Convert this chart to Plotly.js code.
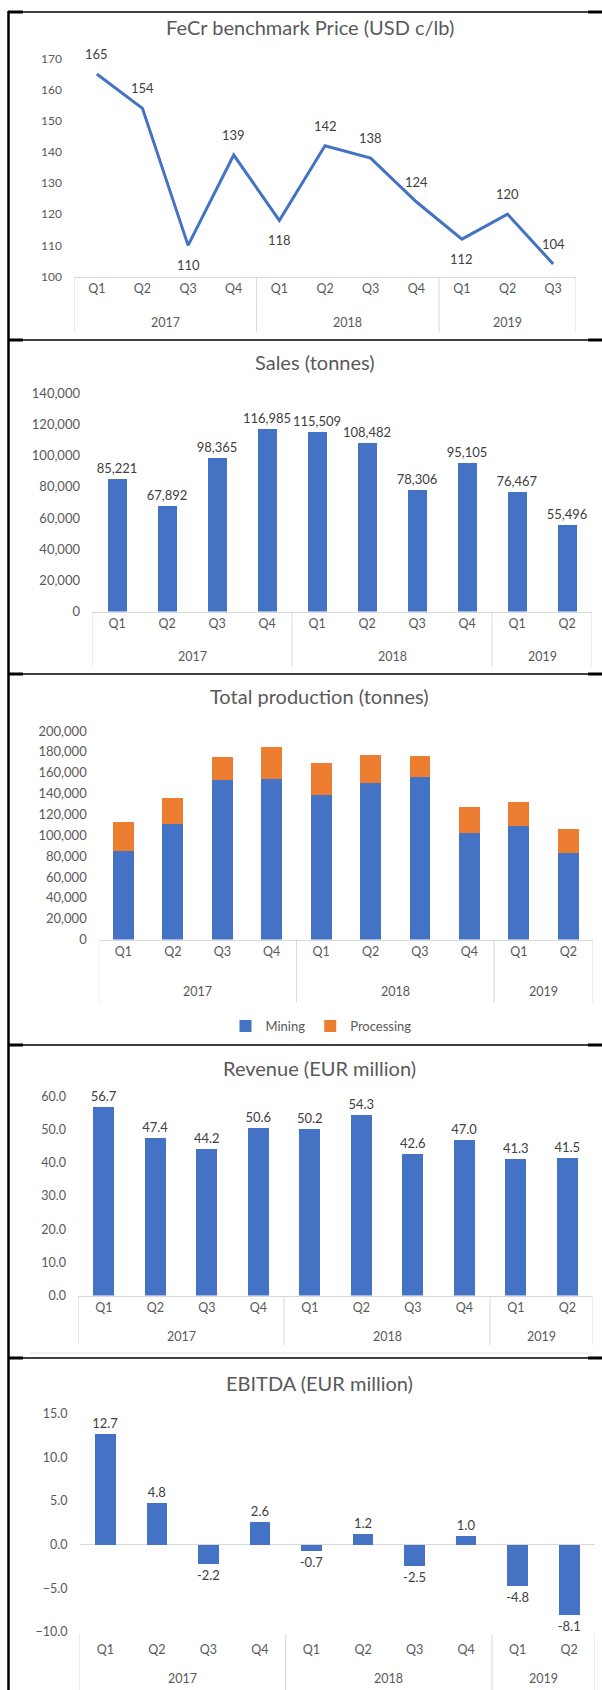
<!DOCTYPE html>
<html>
<head>
<meta charset="utf-8">
<script src="https://cdn.plot.ly/plotly-3.0.1.min.js"></script>
<style>
  html, body { margin: 0; padding: 0; background: #ffffff; }
  #chart { width: 602px; height: 1690px; }
</style>
</head>
<body>
<div id="chart"></div>
<script>
// ---------------- DATA ----------------
const priceYears    = ['2017','2017','2017','2017','2018','2018','2018','2018','2019','2019','2019'];
const priceQuarters = ['Q1','Q2','Q3','Q4','Q1','Q2','Q3','Q4','Q1','Q2','Q3'];
const price         = [165, 154, 110, 139, 118, 142, 138, 124, 112, 120, 104];

const finYears    = ['2017','2017','2017','2017','2018','2018','2018','2018','2019','2019'];
const finQuarters = ['Q1','Q2','Q3','Q4','Q1','Q2','Q3','Q4','Q1','Q2'];

const sales      = [85221, 67892, 98365, 116985, 115509, 108482, 78306, 95105, 76467, 55496];
const mining     = [84500, 110400, 153000, 154000, 138600, 150000, 155500, 102400, 109100, 82900];
const processing = [28100, 25600, 21700, 31000, 31000, 27300, 20500, 24600, 23100, 23300];
const revenue    = [56.7, 47.4, 44.2, 50.6, 50.2, 54.3, 42.6, 47.0, 41.3, 41.5];
const ebitda     = [12.7, 4.8, -2.2, 2.6, -0.7, 1.2, -2.5, 1.0, -4.8, -8.1];

const titles = ['FeCr benchmark Price (USD c/lb)', 'Sales (tonnes)', 'Total production (tonnes)',
                'Revenue (EUR million)', 'EBITDA (EUR million)'];
const legendNames = ['Mining', 'Processing'];

// ---------------- STYLE / LAYOUT HELPERS ----------------
const W = 602, H = 1690;
const FONT = 'Lato, "Open Sans", sans-serif';
const BLUE = '#4472C4', ORANGE = '#ED7D31';
const AXIS_GRAY = '#d9d9d9', TICK_COL = '#595959', LABEL_COL = '#404040';
const TITLE_SIZE = 20;
const xp = px => px / W;
const yp = py => 1 - py / H;
const idx = arr => arr.map((_, i) => i);

// label side for price line labels (1 = above, -1 = below)
const priceLabelSide = [1, 1, -1, 1, -1, 1, 1, 1, -1, 1, 1];

const annotations = [];
const shapes = [];

// panel geometry (pixels)
const panels = [
  { id: '',  x0: 74,   x1: 576, top: 58.5, bottom: 276.5, range: [100, 170], dtick: 10, fmt: 'd',
    tickSize: 12, qStand: 8.5, yearY: 322, divBottom: 332, divTop: 276.5, showline: true,
    years: priceYears, quarters: priceQuarters },
  { id: '2', x0: 92,   x1: 592, top: 393.5, bottom: 611.5, range: [0, 140000], dtick: 20000, fmt: ',d',
    tickSize: 13, qStand: 7.5, yearY: 656.7, divBottom: 667, divTop: 611.5, showline: true,
    years: finYears, quarters: finQuarters },
  { id: '3', x0: 98.7, x1: 593, top: 731, bottom: 939.5, range: [0, 200000], dtick: 20000, fmt: ',d',
    tickSize: 13, qStand: 10.5, yearY: 991.7, divBottom: 1002.7, divTop: 939.5, showline: true,
    years: finYears, quarters: finQuarters },
  { id: '4', x0: 78,   x1: 593, top: 1096.5, bottom: 1295.5, range: [0, 60], dtick: 10, fmt: '.1f',
    tickSize: 12.5, qStand: 6.5, yearY: 1336, divBottom: 1345, divTop: 1295.5, showline: true,
    years: finYears, quarters: finQuarters },
  { id: '5', x0: 79.5, x1: 595, top: 1414, bottom: 1631.7, range: [-10, 15], dtick: 5, fmt: '.1f',
    tickSize: 12.5, qStand: 9, yearY: 1678, divBottom: 1690, divTop: 1634, showline: false,
    years: finYears, quarters: finQuarters }
];

const layout = {
  width: W, height: H, margin: { l: 0, r: 0, t: 0, b: 0 },
  paper_bgcolor: '#ffffff', plot_bgcolor: 'rgba(0,0,0,0)',
  font: { family: FONT, color: TICK_COL },
  barmode: 'stack',
  showlegend: true,
  legend: {
    orientation: 'h', traceorder: 'normal', x: xp(321), xanchor: 'center', y: yp(1026), yanchor: 'middle',
    font: { family: FONT, size: 13, color: TICK_COL }, bgcolor: 'rgba(0,0,0,0)', itemwidth: 30
  },
  annotations: annotations,
  shapes: shapes
};

panels.forEach(p => {
  const xa = 'x' + p.id, ya = 'y' + p.id;
  const n = p.quarters.length;
  layout['xaxis' + p.id] = {
    domain: [xp(p.x0), xp(p.x1)], anchor: ya, type: 'linear', range: [-0.5, n - 0.5],
    tickmode: 'array', tickvals: idx(p.quarters), ticktext: p.quarters,
    showline: p.showline, linecolor: AXIS_GRAY, linewidth: 1,
    showgrid: false, zeroline: false, ticks: '', ticklabelstandoff: p.qStand,
    tickfont: { family: FONT, size: 12.5, color: TICK_COL }, fixedrange: true
  };
  layout['yaxis' + p.id] = {
    domain: [yp(p.bottom), yp(p.top)], anchor: xa, range: p.range, dtick: p.dtick,
    tickformat: p.fmt, showgrid: false, showline: false, zeroline: p.id === '5',
    zerolinecolor: AXIS_GRAY, zerolinewidth: 1, ticks: '', ticklabelstandoff: 11,
    tickfont: { family: FONT, size: p.tickSize, color: TICK_COL }, fixedrange: true
  };
  // year groups: labels + dividers
  let start = 0;
  for (let i = 1; i <= n; i++) {
    if (i === n || p.years[i] !== p.years[start]) {
      annotations.push({
        xref: xa, yref: 'paper', x: (start + i - 1) / 2, y: yp(p.yearY), text: p.years[start],
        showarrow: false, xanchor: 'center', yanchor: 'middle',
        font: { family: FONT, size: 12.5, color: TICK_COL }
      });
      shapes.push({ type: 'line', xref: xa, yref: 'paper', x0: start - 0.5, x1: start - 0.5,
        y0: yp(p.divTop), y1: yp(p.divBottom), line: { color: AXIS_GRAY, width: 1 } });
      start = i;
    }
  }
  shapes.push({ type: 'line', xref: xa, yref: 'paper', x0: n - 0.5, x1: n - 0.5,
    y0: yp(p.divTop), y1: yp(p.divBottom), line: { color: AXIS_GRAY, width: 1 } });
});

const lbl = (size) => ({ family: FONT, size: size, color: LABEL_COL });

const traces = [
  {
    type: 'scatter', mode: 'lines', x: idx(price), y: price,
    xaxis: 'x', yaxis: 'y', line: { color: BLUE, width: 3 }, showlegend: false, cliponaxis: false
  },
  {
    type: 'bar', x: idx(sales), y: sales, xaxis: 'x2', yaxis: 'y2',
    marker: { color: BLUE }, width: 0.38, showlegend: false,
    text: sales.map(v => v.toLocaleString('en-US')), textposition: 'outside',
    textfont: lbl(13), constraintext: 'none', cliponaxis: false
  },
  {
    type: 'bar', name: legendNames[0], x: idx(mining), y: mining,
    xaxis: 'x3', yaxis: 'y3', marker: { color: BLUE }, width: 0.42, showlegend: true
  },
  {
    type: 'bar', name: legendNames[1], x: idx(processing), y: processing,
    xaxis: 'x3', yaxis: 'y3', marker: { color: ORANGE }, width: 0.42, showlegend: true
  },
  {
    type: 'bar', x: idx(revenue), y: revenue, xaxis: 'x4', yaxis: 'y4',
    marker: { color: BLUE }, width: 0.40, showlegend: false,
    text: revenue.map(v => v.toFixed(1)), textposition: 'outside',
    textfont: lbl(13), constraintext: 'none', cliponaxis: false
  },
  {
    type: 'bar', x: idx(ebitda), y: ebitda, xaxis: 'x5', yaxis: 'y5',
    marker: { color: BLUE }, width: 0.40, showlegend: false,
    text: ebitda.map(v => v.toFixed(1)), textposition: 'outside',
    textfont: lbl(13), constraintext: 'none', cliponaxis: false
  }
];

// price data labels
price.forEach((v, i) => annotations.push({
  xref: 'x', yref: 'y', x: i, y: v, text: String(v), showarrow: false,
  yshift: 20 * priceLabelSide[i], font: lbl(13), xanchor: 'center', yanchor: 'middle'
}));

// chart titles
const titleCenters = [[310, 27], [315, 362], [319, 696], [319, 1068], [319, 1383]];
titles.forEach((t, i) => annotations.push({
  xref: 'paper', yref: 'paper', x: xp(titleCenters[i][0]), y: yp(titleCenters[i][1]),
  text: t, showarrow: false, xanchor: 'center', yanchor: 'middle',
  font: { family: FONT, size: TITLE_SIZE, color: TICK_COL }
}));

// frame lines
function hline(y, x0, x1, w, c) {
  shapes.push({ type: 'line', xref: 'paper', yref: 'paper', x0: xp(x0), x1: xp(x1),
    y0: yp(y), y1: yp(y), line: { color: c, width: w } });
}
shapes.push({ type: 'line', xref: 'paper', yref: 'paper', x0: xp(8.5), x1: xp(8.5),
  y0: yp(11), y1: 0, line: { color: '#000', width: 2.5 } });
[12, 340, 674, 1045, 1358].forEach(y => {
  hline(y, 8, 602, 1.5, '#000');
  hline(y, 8, 23, 3, '#000');
  hline(y, 588, 602, 3, '#000');
});
hline(1353, 30, 593, 1, '#e4e4e4');

Plotly.newPlot('chart', traces, layout, { displayModeBar: false, staticPlot: true });
</script>
</body>
</html>
